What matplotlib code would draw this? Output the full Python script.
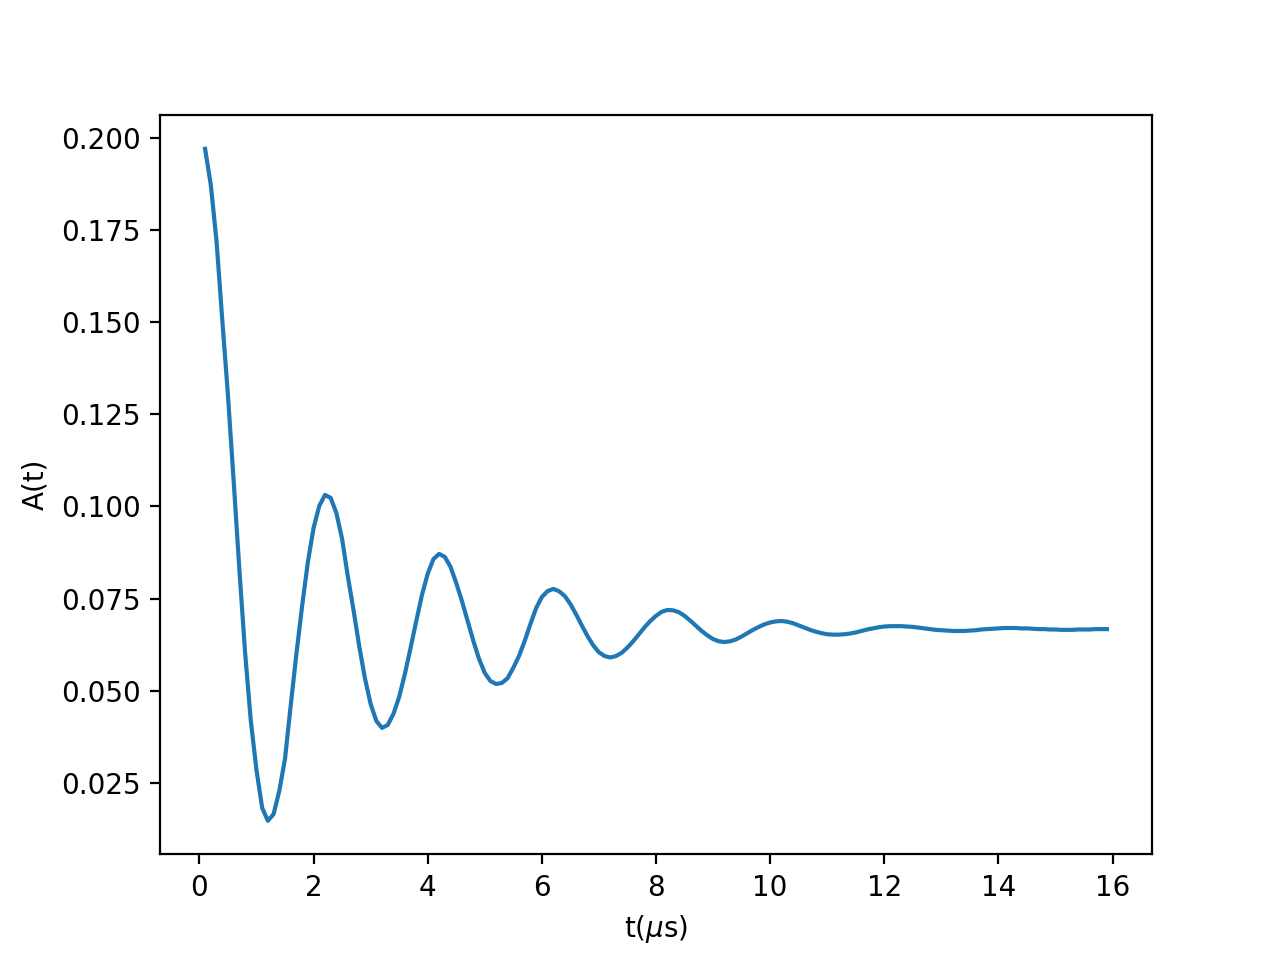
import matplotlib.pyplot as plt

# tempos em microssegundos (0.1 a 15.9, passo 0.1)
t = [round(0.1 * i, 1) for i in range(1, 160)]

# valores
A = [
    0.1970, 0.1872, 0.1720, 0.1508, 0.1302, 0.1070, 0.0830, 0.0605, 0.0420, 0.0285,  # 0.1-1.0
    0.0182, 0.0147, 0.0165, 0.0228, 0.0315, 0.0460, 0.0600, 0.0730, 0.0848, 0.0941,  # 1.1-2.0
    0.1001, 0.1031, 0.1023, 0.0982, 0.0912, 0.0811, 0.0719, 0.0621, 0.0534, 0.0464,  # 2.1-3.0
    0.0418, 0.0399, 0.0407, 0.0437, 0.0483, 0.0545, 0.0616, 0.0689, 0.0760, 0.0817,  # 3.1-4.0
    0.0857, 0.0871, 0.0863, 0.0836, 0.0792, 0.0743, 0.0689, 0.0635, 0.0586, 0.0548,  # 4.1-5.0
    0.0526, 0.0518, 0.0521, 0.0534, 0.0562, 0.0594, 0.0635, 0.0681, 0.0724, 0.0754,  # 5.1-6.0
    0.0770, 0.0776, 0.0770, 0.0757, 0.0735, 0.0707, 0.0677, 0.0648, 0.0623, 0.0604,  # 6.1-7.0
    0.0594, 0.0590, 0.0594, 0.0603, 0.0617, 0.0634, 0.0653, 0.0672, 0.0689, 0.0703,  # 7.1-8.0
    0.0714, 0.0719, 0.0718, 0.0713, 0.0703, 0.0690, 0.0676, 0.0662, 0.0650, 0.0640,  # 8.1-9.0
    0.0634, 0.0632, 0.0634, 0.0639, 0.0647, 0.0656, 0.0665, 0.0673, 0.0680, 0.0685,  # 9.1-10.0
    0.0688, 0.0689, 0.0687, 0.0683, 0.0677, 0.0671, 0.0665, 0.0660, 0.0656, 0.0653,  # 10.1-11.0
    0.0652, 0.0652, 0.0653, 0.0655, 0.0658, 0.0662, 0.0666, 0.0669, 0.0672, 0.0674,  # 11.1-12.0
    0.0675, 0.0675, 0.0675, 0.0674, 0.0673, 0.0671, 0.0669, 0.0667, 0.0665, 0.0664,  # 12.1-13.0
    0.0663, 0.0662, 0.0662, 0.0662, 0.0663, 0.0664, 0.0666, 0.0667, 0.0668, 0.0669,  # 13.1-14.0
    0.0670, 0.0670, 0.0670, 0.0669, 0.0669, 0.0668, 0.0667, 0.0667, 0.0666, 0.0666,  # 14.1-15.0
    0.0665, 0.0665, 0.0665, 0.0666, 0.0666, 0.0666, 0.0667, 0.0667, 0.0667,          # 15.1-15.9
]

fig = plt.figure(figsize=(6.4, 4.8), dpi=200)
plt.plot(t, A)
plt.xlabel(r't($\mu$s)')
plt.ylabel('A(t)')
plt.savefig('out.png')
